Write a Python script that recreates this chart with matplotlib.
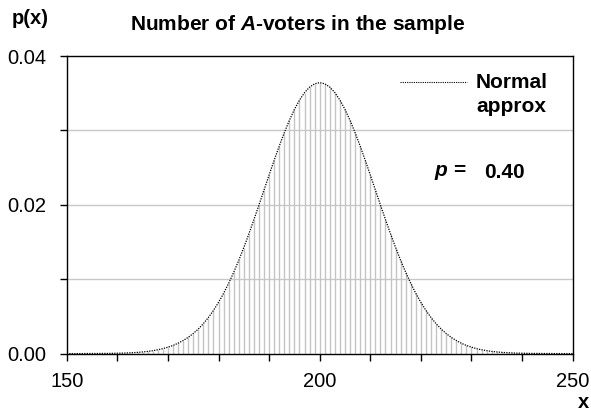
import numpy as np
import matplotlib
matplotlib.use("Agg")
from matplotlib import pyplot as plt
from matplotlib.lines import Line2D
from matplotlib.ticker import FixedLocator, MultipleLocator, FuncFormatter

plt.rcParams["font.family"] = ["Liberation Sans", "DejaVu Sans"]
plt.rcParams["mathtext.fontset"] = "custom"
plt.rcParams["mathtext.rm"] = "Liberation Sans"
plt.rcParams["mathtext.bfit"] = "Liberation Sans:italic:bold"

# number of A-voters in a sample of 500, p = 0.40
x_vals = list(range(150, 251))
left_half = [
    0.00000, 0.00000, 0.00000, 0.00000, 0.00001, 0.00001, 0.00001, 0.00002, 0.00002, 0.00003,
    0.00005, 0.00006, 0.00009, 0.00012, 0.00016, 0.00022, 0.00029, 0.00039, 0.00051, 0.00066,
    0.00086, 0.00109, 0.00139, 0.00175, 0.00218, 0.00269, 0.00330, 0.00402, 0.00485, 0.00580,
    0.00688, 0.00809, 0.00944, 0.01092, 0.01253, 0.01426, 0.01609, 0.01801, 0.01999, 0.02200,
    0.02401, 0.02599, 0.02789, 0.02969, 0.03135, 0.03282, 0.03407, 0.03508, 0.03582, 0.03627,
]
peak = 0.03642
p_x = left_half + [peak] + left_half[::-1]
p_value = "0.40"

fig = plt.figure(figsize=(5.91, 4.15), dpi=100)
ax = fig.add_axes([0.1129, 0.148, 0.8561, 0.717])

ax.vlines(x_vals, 0, p_x, color="#c4c4c4", lw=1.0, zorder=2)
ax.plot(x_vals, p_x, color="black", lw=0.9, ls=(0, (1, 1)), zorder=3)

ax.set_xlim(150, 250)
ax.set_ylim(0, 0.04)

ax.xaxis.set_major_locator(MultipleLocator(10))
ax.xaxis.set_major_formatter(FuncFormatter(lambda v, _: f"{v:.0f}" if round(v) % 50 == 0 else ""))
ax.yaxis.set_major_locator(FixedLocator([0, 0.01, 0.02, 0.03, 0.04]))
ax.yaxis.set_major_formatter(FuncFormatter(lambda v, _: f"{v:.2f}" if round(v * 100) % 2 == 0 else ""))
ax.tick_params(direction="out", length=5, width=1, labelsize=14.5, colors="black")
ax.tick_params(axis="x", pad=8)
ax.tick_params(axis="y", pad=10)

for y in (0.01, 0.02, 0.03):
    ax.axhline(y, color="#c8c8c8", lw=1.0, zorder=1)

for s in ax.spines.values():
    s.set_linewidth(1.0)
    s.set_color("black")

fig.text(0.504, 0.940, "Number of $\\bfit{A}$-voters in the sample", ha="center", va="center",
         fontsize=15, fontweight="bold")
fig.text(0.051, 0.955, "p(x)", ha="center", va="center", fontsize=14.5, fontweight="bold")
fig.text(0.978, 0.030, "x", ha="left", va="center", fontsize=14.5, fontweight="bold")

# legend for the normal curve
fig.add_artist(Line2D([400 / 591, 467 / 591], [1 - 82 / 415, 1 - 82 / 415],
                      color="black", lw=0.8, ls=(0, (1, 1))))
fig.text(476 / 591, 1 - 82 / 415, "Normal", ha="left", va="center", fontsize=15, fontweight="bold")
fig.text(476 / 591, 1 - 106 / 415, "approx", ha="left", va="center", fontsize=15, fontweight="bold")

fig.text(434 / 591, 1 - 172 / 415, "$\\bfit{p}$ =", ha="left", va="center", fontsize=15,
         fontweight="bold")
fig.text(484 / 591, 1 - 172 / 415, p_value, ha="left", va="center", fontsize=15, fontweight="bold")

fig.savefig("out.png", dpi=100)
